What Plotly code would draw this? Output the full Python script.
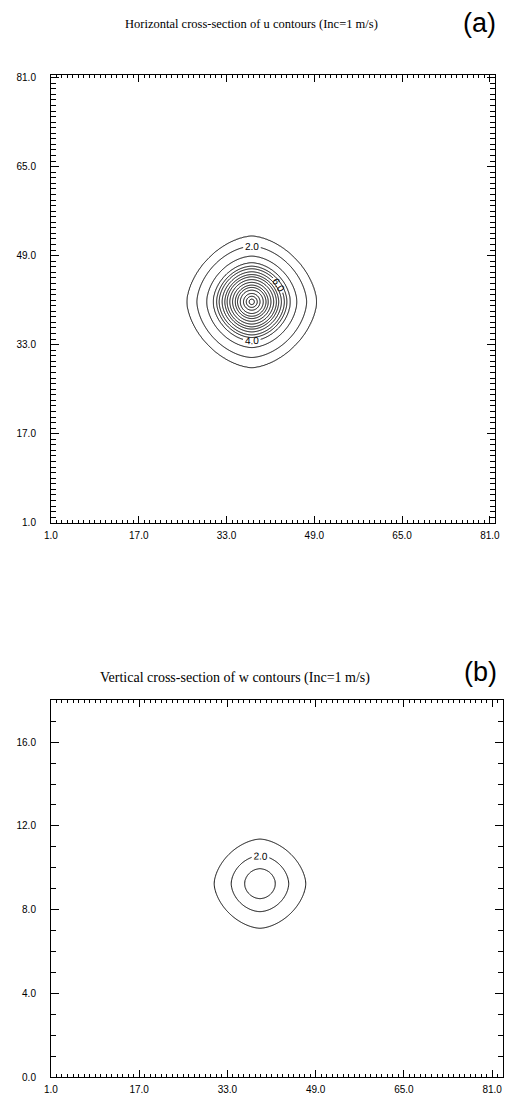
import numpy as np
import plotly.graph_objects as go

# ---------------- data ----------------
# Panel (a): u field, radial profile (radius in grid units -> contour value)
u_center = [37.6, 40.7]
u_radius = [0.0, 0.5, 1.0, 1.5, 2.1, 2.6, 3.0, 3.5, 4.0, 4.5, 4.9, 5.4, 5.95, 6.4, 7.0, 8.2, 10.0, 11.8, 16.0]
u_value = [17.5, 17, 16, 15, 14, 13, 12, 11, 10, 9, 8, 7, 6, 5, 4, 3, 2, 1, 0]

# Panel (b): w field, radial profile (radius in x-grid units, y stretched)
w_center = [38.9, 9.24]
w_stretch = 3.9
w_radius = [0.0, 2.8, 5.2, 8.3, 12.0]
w_value = [3.6, 3, 2, 1, 0]

x_ticks_a = [1, 17, 33, 49, 65, 81]
y_ticks_a = [1, 17, 33, 49, 65, 81]
x_ticks_b = [1, 17, 33, 49, 65, 81]
y_ticks_b = [0, 4, 8, 12, 16]

title_a = "Horizontal cross-section of u contours (Inc=1 m/s)"
title_b = "Vertical cross-section of w contours (Inc=1 m/s)"

# ---------------- build fields ----------------
def metric(dx, dy, rmax, pmin):
    re = np.sqrt(dx**2 + dy**2)
    p = 2.0 - (2.0 - pmin) * np.clip(re / rmax, 0, 1)
    return (np.abs(dx)**p + np.abs(dy)**p)**(1.0 / p)

xa = np.arange(20, 56.01, 0.2)
ya = np.arange(23, 59.01, 0.2)
XA, YA = np.meshgrid(xa, ya)
ra = metric(XA - u_center[0], YA - u_center[1], 12.0, 1.68)
za = np.interp(ra, u_radius, u_value)

xb = np.arange(25, 53.01, 0.2)
yb = np.arange(5, 13.61, 0.04)
XB, YB = np.meshgrid(xb, yb)
rb = metric(XB - w_center[0], (YB - w_center[1]) * w_stretch, 8.3, 1.7)
zb = np.interp(rb, w_radius, w_value)

fig = go.Figure()

lab_font = dict(family="Liberation Sans", size=10, color="black")

def ctr(x, y, z, start, end, size, xaxis, yaxis, labels=False):
    return go.Contour(
        x=x, y=y, z=z, xaxis=xaxis, yaxis=yaxis,
        autocontour=False,
        contours=dict(start=start, end=end, size=size, coloring="none",
                      showlabels=labels, labelformat=".1f", labelfont=lab_font),
        line=dict(color="black", width=1, smoothing=0.6),
        showscale=False, hoverinfo="skip",
    )

# panel a
fig.add_trace(ctr(xa, ya, za, 1, 5, 2, "x", "y"))
fig.add_trace(ctr(xa, ya, za, 7, 17, 1, "x", "y"))
fig.add_trace(ctr(xa, ya, za, 2, 6, 2, "x", "y", labels=True))
# panel b
fig.add_trace(ctr(xb, yb, zb, 1, 3, 2, "x2", "y2"))
fig.add_trace(ctr(xb, yb, zb, 2, 2, 1, "x2", "y2", labels=True))

W, H = 516, 1102

def axis(dom, rng, tickvals, anchor, majlen, minlen, standoff):
    return dict(
        domain=dom, range=rng, anchor=anchor,
        tickmode="array", tickvals=tickvals,
        ticktext=[f"{v:.1f}" for v in tickvals],
        ticks="inside", ticklen=majlen, tickwidth=1, tickcolor="black",
        showline=True, linecolor="black", linewidth=1, mirror="allticks",
        showgrid=False, zeroline=False, ticklabelstandoff=standoff,
        tickfont=dict(family="Liberation Sans", size=10, color="black"),
        minor=dict(tickmode="linear", dtick=1, tick0=0, ticks="inside", ticklen=minlen,
                   tickwidth=1, tickcolor="black", showgrid=False),
    )

fig.update_layout(
    width=W, height=H,
    margin=dict(l=0, r=0, t=0, b=0),
    paper_bgcolor="white", plot_bgcolor="white",
    showlegend=False,
    xaxis=axis([45 / W, 500 / W], [1, 82], x_ticks_a, "y", 7, 3, 3),
    yaxis=axis([1 - 524 / H, 1 - 73 / H], [1, 81.4], y_ticks_a, "x", 8, 5, 12),
    xaxis2=axis([45 / W, 508 / W], [1, 83], x_ticks_b, "y2", 7, 3, 3),
    yaxis2=axis([1 - 1083 / H, 1 - 703 / H], [0, 18], y_ticks_b, "x2", 8, 5, 12),
    annotations=[
        dict(text=title_a, x=250 / W, y=1 - 21 / H, xref="paper", yref="paper",
             xanchor="center", yanchor="middle",
             showarrow=False, font=dict(family="Liberation Serif", size=12.5, color="black")),
        dict(text="(a)", x=484 / W, y=1 - 20 / H, xref="paper", yref="paper",
             xanchor="center", yanchor="middle",
             showarrow=False, font=dict(family="Liberation Sans", size=27, color="black")),
        dict(text=title_b, x=233 / W, y=1 - 681 / H, xref="paper", yref="paper",
             xanchor="center", yanchor="middle",
             showarrow=False, font=dict(family="Liberation Serif", size=14, color="black")),
        dict(text="(b)", x=485 / W, y=1 - 675 / H, xref="paper", yref="paper",
             xanchor="center", yanchor="middle",
             showarrow=False, font=dict(family="Liberation Sans", size=27, color="black")),
    ],
)

fig.write_html("out.html")
